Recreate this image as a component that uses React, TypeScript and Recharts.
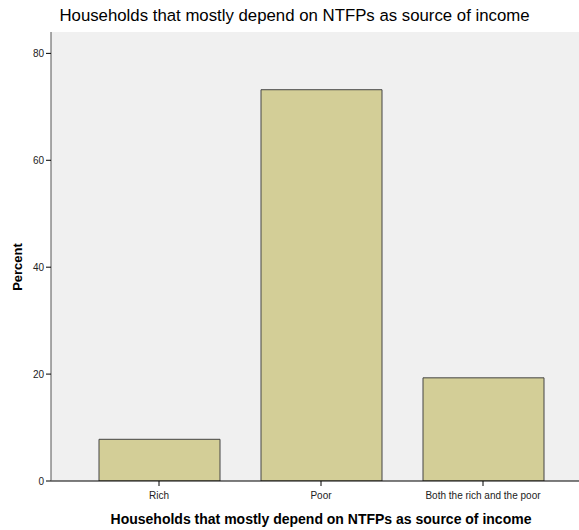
import { BarChart, Bar, XAxis, YAxis, CartesianGrid } from "recharts";

const categories = ["Rich", "Poor", "Both the rich and the poor"];
const percent = [7.8, 73.2, 19.3];
const yTicks = [0, 20, 40, 60, 80];

const data = categories.map((name, i) => ({ name, percent: percent[i] }));

const font = "'Liberation Sans', Arial, sans-serif";

export default function App() {
  return (
    <div
      style={{
        position: "absolute",
        left: 0,
        top: 0,
        width: 579,
        height: 530,
        overflow: "hidden",
        background: "#fff",
        fontFamily: font,
      }}
    >
      <div
        style={{
          position: "absolute",
          left: 0,
          width: 589,
          top: 6,
          textAlign: "center",
          fontSize: 16.8,
          color: "#000",
        }}
      >
        Households that mostly depend on NTFPs as source of income
      </div>
      <div
        style={{
          position: "absolute",
          left: 0,
          width: 642,
          top: 511,
          textAlign: "center",
          fontSize: 14,
          fontWeight: "bold",
          color: "#000",
        }}
      >
        Households that mostly depend on NTFPs as source of income
      </div>
      <div
        style={{
          position: "absolute",
          left: 17,
          top: 267,
          transform: "translate(-50%, -50%) rotate(-90deg)",
          fontSize: 13,
          fontWeight: "bold",
          color: "#000",
          whiteSpace: "nowrap",
        }}
      >
        Percent
      </div>
      <div style={{ position: "absolute", left: 0, top: 0 }}>
        <BarChart
          width={591}
          height={530}
          data={data}
          margin={{ top: 32, right: 0, bottom: 0, left: 0 }}
        >
          <CartesianGrid
            fill="#f0f0f0"
            horizontal={false}
            vertical={false}
          />
          <XAxis
            dataKey="name"
            height={49}
            padding={{ left: 27, right: 27 }}
            axisLine={{ stroke: "#000" }}
            tickLine={{ stroke: "#000" }}
            tickSize={5}
            tick={{ fontSize: 10, fill: "#222", fontFamily: font, dy: 4 }}
            interval={0}
          />
          <XAxis
            xAxisId="top"
            orientation="top"
            dataKey="name"
            height={0}
            tick={false}
            tickLine={false}
            axisLine={{ stroke: "#555" }}
          />
          <YAxis
            width={51}
            domain={[0, 84]}
            ticks={yTicks}
            allowDataOverflow
            axisLine={{ stroke: "#555" }}
            tickLine={{ stroke: "#000" }}
            tickSize={5}
            tick={{ fontSize: 10, fill: "#222", fontFamily: font }}
          />
          <Bar
            dataKey="percent"
            fill="#d3ce97"
            stroke="#444"
            strokeWidth={1}
            barSize={121}
            isAnimationActive={false}
          />
        </BarChart>
      </div>
    </div>
  );
}
